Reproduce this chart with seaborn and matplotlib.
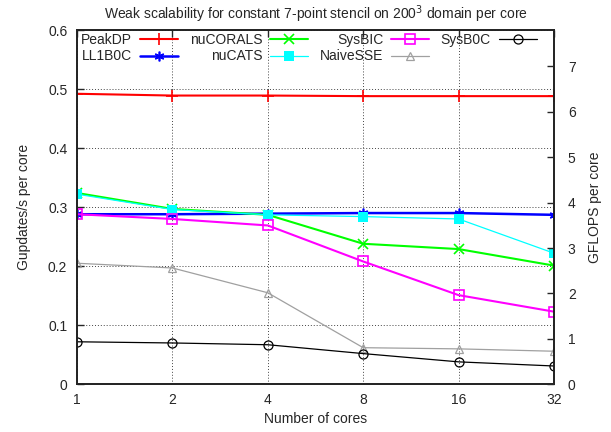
import pandas as pd
import matplotlib.pyplot as plt
import seaborn as sns

cores = [1, 2, 4, 8, 16, 32]
peakdp = [0.492, 0.489, 0.489, 0.488, 0.488, 0.488]
ll1b0c = [0.288, 0.288, 0.289, 0.290, 0.290, 0.287]
nucorals = [0.324, 0.297, 0.287, 0.238, 0.229, 0.201]
nucats = [0.322, 0.296, 0.287, 0.284, 0.280, 0.222]
sysbic = [0.288, 0.280, 0.269, 0.208, 0.151, 0.123]
naivesse = [0.205, 0.197, 0.155, 0.062, 0.060, 0.056]
sysb0c = [0.072, 0.070, 0.067, 0.052, 0.038, 0.031]

names = ['PeakDP', 'LL1B0C', 'nuCORALS', 'nuCATS', 'SysBIC', 'NaiveSSE', 'SysB0C']
series = [peakdp, ll1b0c, nucorals, nucats, sysbic, naivesse, sysb0c]

styles = {
    'PeakDP': dict(color='#ff0000', marker='+', lw=1.5, ms=8, mew=1.2),
    'LL1B0C': dict(color='#0000ff', marker=(6, 2, 0), lw=1.8, ms=7, mew=1.2),
    'nuCORALS': dict(color='#00ff00', marker='x', lw=1.5, ms=6.5, mew=1.2),
    'nuCATS': dict(color='#00ffff', marker='s', lw=0.9, ms=6.5, mew=0),
    'SysBIC': dict(color='#ff00ff', marker='s', lw=1.5, ms=6.5, mew=1.2, mfc='none'),
    'NaiveSSE': dict(color='#a0a0a0', marker='^', lw=0.9, ms=5.5, mew=0.9, mfc='none'),
    'SysB0C': dict(color='#000000', marker='o', lw=0.9, ms=6.5, mew=0.9, mfc='none'),
}

rows = []
for n, vals in zip(names, series):
    for c, v in zip(cores, vals):
        rows.append({'cores': c, 'value': v, 'name': n})
df = pd.DataFrame(rows)

sns.set_style('white')
plt.rcParams['font.family'] = ['Liberation Sans', 'DejaVu Sans']
plt.rcParams['font.size'] = 10

fig = plt.figure(figsize=(6.11, 4.32), dpi=100)
ax = fig.add_axes([77 / 611, 1 - 384.3 / 432, (554 - 77) / 611, (384.3 - 30) / 432])

for n in names:
    st = styles[n]
    sns.lineplot(data=df[df['name'] == n], x='cores', y='value', ax=ax, label=n,
                 color=st['color'], marker=st['marker'], linewidth=st['lw'],
                 markersize=st['ms'], markeredgewidth=st['mew'],
                 markerfacecolor=st.get('mfc', st['color']),
                 markeredgecolor=st['color'], errorbar=None)

ax.set_xscale('log', base=2)
ax.set_xlim(1, 32)
ax.set_xticks(cores)
ax.set_xticklabels([str(c) for c in cores])
ax.set_ylim(0, 0.6)
ax.set_yticks([0, 0.1, 0.2, 0.3, 0.4, 0.5, 0.6])
ax.set_yticklabels(['0', '0.1', '0.2', '0.3', '0.4', '0.5', '0.6'])
ax.minorticks_off()
ax.grid(True, color='#444444', linestyle=(0, (1, 2)), linewidth=0.7)
ax.tick_params(axis='x', direction='in', top=True, length=5, width=1, pad=6)
ax.tick_params(axis='y', direction='in', right=False, length=5, width=1, pad=7)
for sp in ax.spines.values():
    sp.set_color('black')
    sp.set_linewidth(1.2)

ax.set_xlabel('Number of cores', labelpad=4)
ax.set_ylabel('Gupdates/s per core', labelpad=12)
ax.set_title('Weak scalability for constant 7-point stencil on 200$^3$ domain per core',
             fontsize=10, pad=8)

ax2 = ax.twinx()
ax2.set_ylim(0, 7.8)
ax2.set_yticks(range(8))
ax2.minorticks_off()
ax2.tick_params(axis='y', direction='in', length=5, width=1, pad=10)
ax2.set_ylabel('GFLOPS per core', labelpad=9)
ax2.grid(False)
for sp in ax2.spines.values():
    sp.set_linewidth(1.2)

leg = ax.legend(ncol=4, loc='upper left', bbox_to_anchor=(-0.012, 1.018), frameon=False,
                markerfirst=False, handlelength=2.7, handletextpad=0.6,
                columnspacing=0.85, labelspacing=0.15, fontsize=10, borderaxespad=0.3)

plt.savefig('out.png', dpi=100)
